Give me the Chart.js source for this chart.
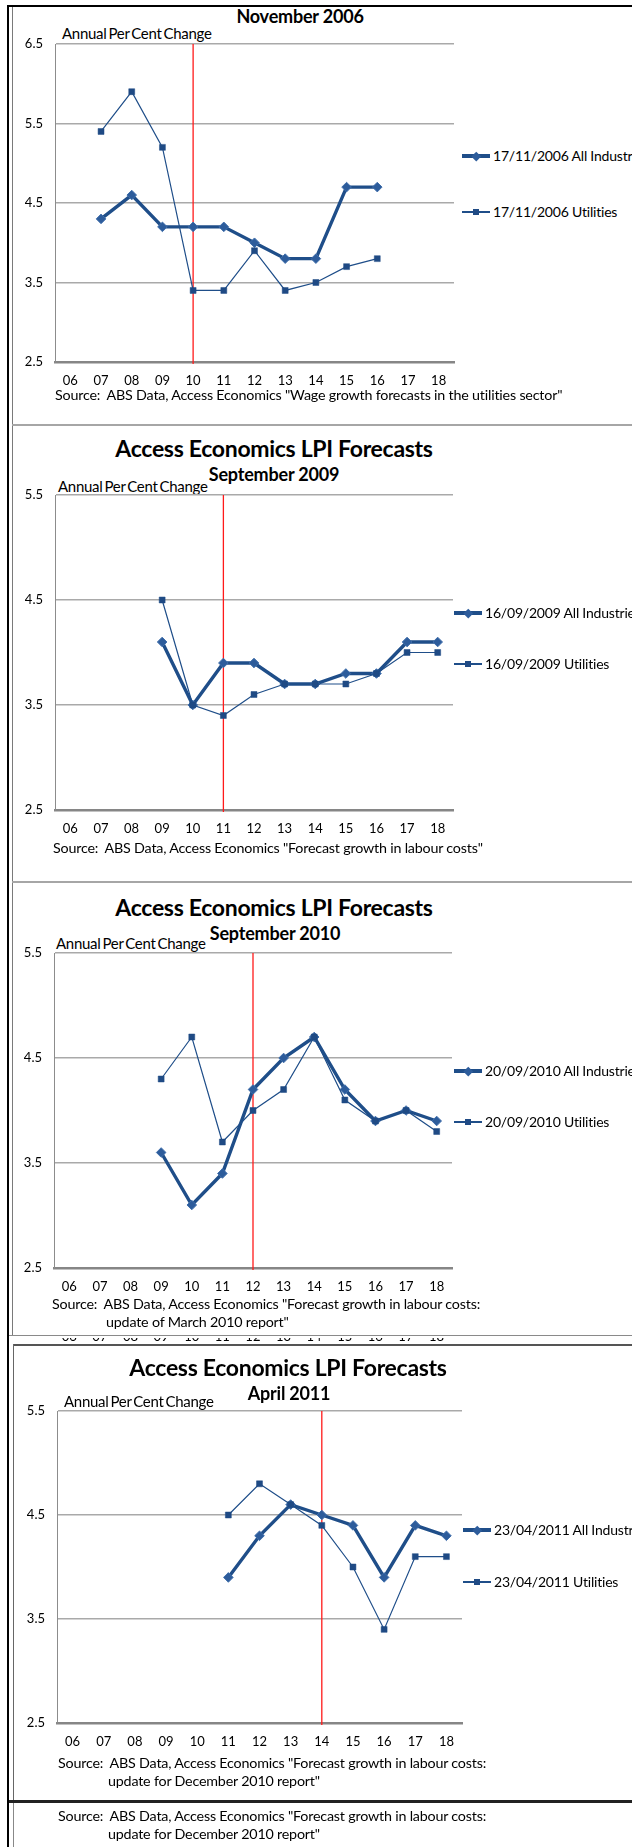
<!DOCTYPE html>
<html>
<head>
<meta charset="utf-8">
<script src="https://cdn.jsdelivr.net/npm/chart.js@4.4.0/dist/chart.umd.min.js"></script>
<style>
  body { margin: 0; background: #fff; }
  #page { position: relative; width: 632px; height: 1847px; overflow: hidden; font-family: Lato, "Liberation Sans", sans-serif; color: #000; }
  #page canvas { position: absolute; left: 0; }
  .t { position: absolute; white-space: pre; line-height: 1; transform: translateY(-50%); }
  .c { transform: translate(-50%, -50%); }
  .title { font-weight: bold; font-size: 23px; letter-spacing: -0.3px; }
  .sub { font-weight: bold; font-size: 18px; letter-spacing: -0.2px; }
  .unit { font-size: 15px; letter-spacing: -0.3px; word-spacing: -1.5px; }
  .src { font-size: 14.3px; letter-spacing: -0.2px; }
  .rule { position: absolute; }
  .leg { position: absolute; height: 14px; transform: translateY(-50%); font-size: 14px; white-space: pre; letter-spacing: -0.2px; }
  .leg i { position: absolute; left: 0; width: 28px; top: 50%; }
  .leg b { position: absolute; top: 50%; left: 14px; }
  .leg span { position: absolute; left: 31px; top: 50%; line-height: 1; transform: translateY(-50%); }
  .ghost { position: absolute; overflow: hidden; }
  .ghost span { position: absolute; font-size: 13px; line-height: 1; transform: translate(-50%, -50%); }
</style>
</head>
<body>
<div id="page">
  <!-- frame lines -->
  <div class="rule" style="left:7px;top:5px;width:625px;height:2px;background:#000"></div>
  <div class="rule" style="left:7px;top:5px;width:2px;height:1842px;background:#000"></div>
  <div class="rule" style="left:12px;top:7px;width:1px;height:1328px;background:#7a7a7a"></div>
  <div class="rule" style="left:12px;top:424px;width:620px;height:2px;background:#a6a6a6"></div>
  <div class="rule" style="left:12px;top:881px;width:620px;height:2px;background:#a6a6a6"></div>
  <div class="rule" style="left:9px;top:1335px;width:623px;height:1px;background:#8a8a8a"></div>
  <div class="rule" style="left:13px;top:1344px;width:619px;height:2px;background:#555"></div>
  <div class="rule" style="left:13px;top:1344px;width:1px;height:457px;background:#666"></div>
  <div class="rule" style="left:9px;top:1800px;width:623px;height:3px;background:#222"></div>
  <div class="rule" style="left:13px;top:1803px;width:1px;height:44px;background:#888"></div>

  <!-- panel 1 -->
  <div class="t c sub" style="left:300px;top:16px">November 2006</div>
  <div class="t unit" style="left:62px;top:33px">Annual Per Cent Change</div>
  <canvas id="c1"></canvas>
  <div class="t src" style="left:55px;top:395px">Source:  ABS Data, Access Economics "Wage growth forecasts in the utilities sector"</div>

  <!-- panel 2 -->
  <div class="t c title" style="left:274px;top:448px">Access Economics LPI Forecasts</div>
  <div class="t c sub" style="left:274px;top:474px">September 2009</div>
  <div class="t unit" style="left:58px;top:486px">Annual Per Cent Change</div>
  <canvas id="c2"></canvas>
  <div class="t src" style="left:53px;top:848px">Source:  ABS Data, Access Economics "Forecast growth in labour costs"</div>

  <!-- panel 3 -->
  <div class="t c title" style="left:274px;top:907px">Access Economics LPI Forecasts</div>
  <div class="t c sub" style="left:275px;top:933px">September 2010</div>
  <div class="t unit" style="left:56px;top:943px">Annual Per Cent Change</div>
  <canvas id="c3"></canvas>
  <div class="t src" style="left:52px;top:1304px">Source:  ABS Data, Access Economics "Forecast growth in labour costs:</div>
  <div class="t src" style="left:106px;top:1322px">update of March 2010 report"</div>
  <div class="ghost" id="ghost" style="left:0;top:1338px;width:632px;height:6px"></div>

  <!-- panel 4 -->
  <div class="t c title" style="left:288px;top:1367px">Access Economics LPI Forecasts</div>
  <div class="t c sub" style="left:289px;top:1393px">April 2011</div>
  <div class="t unit" style="left:64px;top:1401px">Annual Per Cent Change</div>
  <canvas id="c4"></canvas>
  <div class="t src" style="left:58px;top:1763px">Source:  ABS Data, Access Economics "Forecast growth in labour costs:</div>
  <div class="t src" style="left:108px;top:1781px">update for December 2010 report"</div>
  <div class="t src" style="left:58px;top:1816px">Source:  ABS Data, Access Economics "Forecast growth in labour costs:</div>
  <div class="t src" style="left:108px;top:1834px">update for December 2010 report"</div>
</div>

<script>
// financial years shown on every chart
var years = ["06", "07", "08", "09", "10", "11", "12", "13", "14", "15", "16", "17", "18"];

// November 2006 forecast
var nov2006AllIndustries = [null, 4.3, 4.6, 4.2, 4.2, 4.2, 4.0, 3.8, 3.8, 4.7, 4.7, null, null];
var nov2006Utilities     = [null, 5.4, 5.9, 5.2, 3.4, 3.4, 3.9, 3.4, 3.5, 3.7, 3.8, null, null];

// September 2009 forecast
var sep2009AllIndustries = [null, null, null, 4.1, 3.5, 3.9, 3.9, 3.7, 3.7, 3.8, 3.8, 4.1, 4.1];
var sep2009Utilities     = [null, null, null, 4.5, 3.5, 3.4, 3.6, 3.7, 3.7, 3.7, 3.8, 4.0, 4.0];

// September 2010 forecast
var sep2010AllIndustries = [null, null, null, 3.6, 3.1, 3.4, 4.2, 4.5, 4.7, 4.2, 3.9, 4.0, 3.9];
var sep2010Utilities     = [null, null, null, 4.3, 4.7, 3.7, 4.0, 4.2, 4.7, 4.1, 3.9, 4.0, 3.8];

// April 2011 forecast
var apr2011AllIndustries = [null, null, null, null, null, 3.9, 4.3, 4.6, 4.5, 4.4, 3.9, 4.4, 4.3];
var apr2011Utilities     = [null, null, null, null, null, 4.5, 4.8, 4.6, 4.4, 4.0, 3.4, 4.1, 4.1];

// y axis tick labels
var ticksNov2006 = [2.5, 3.5, 4.5, 5.5, 6.5];
var ticksLater   = [2.5, 3.5, 4.5, 5.5];

var darkBlue = "#1f4e89";
var padTop = 24; // room above the plot for the top tick label

// red vertical line at the year the forecast was made
var forecastLine = {
  id: "forecastLine",
  beforeDatasetsDraw: function (chart, args, opts) {
    var x = chart.scales.x.getPixelForValue(chart.data.labels.indexOf(opts.year));
    var ctx = chart.ctx;
    ctx.save();
    ctx.strokeStyle = "#ff1a1a";
    ctx.lineWidth = 1.3;
    ctx.beginPath();
    ctx.moveTo(x, chart.chartArea.top);
    ctx.lineTo(x, chart.chartArea.bottom + 2);
    ctx.stroke();
    ctx.restore();
  }
};

function drawPanel(id, box, allData, utilData, ticks, year, names, legendX, legendY) {
  var cv = document.getElementById(id);
  cv.width = box.right + 6;
  cv.height = box.bottom - box.top + padTop + 34;
  cv.style.top = (box.top - padTop) + "px";

  var datasets = [
    {
      label: names[0],
      data: allData,
      borderColor: darkBlue,
      backgroundColor: "#2d5c9b",
      pointBackgroundColor: "#2d5c9b",
      pointBorderColor: "#3f6eab",
      borderWidth: 3.4,
      pointStyle: "rectRot",
      pointRadius: 4.8,
      pointBorderWidth: 1,
      order: 1
    },
    {
      label: names[1],
      data: utilData,
      borderColor: darkBlue,
      backgroundColor: "#1f4a84",
      pointBackgroundColor: "#1f4a84",
      pointBorderColor: "#1f4a84",
      borderWidth: 1.2,
      pointStyle: "rect",
      pointRadius: 4.2,
      pointBorderWidth: 0.5,
      order: 0
    }
  ];

  new Chart(cv.getContext("2d"), {
    type: "line",
    data: { labels: years, datasets: datasets },
    options: {
      responsive: false,
      animation: false,
      devicePixelRatio: 1,
      layout: { padding: { top: padTop, right: 6, left: 0, bottom: 0 } },
      plugins: {
        legend: { display: false },
        tooltip: { enabled: false },
        forecastLine: { year: year }
      },
      scales: {
        x: {
          offset: true,
          grid: { display: false, drawTicks: false },
          border: { color: "#868686", width: 2.5 },
          ticks: { padding: 11.5, color: "#000", maxRotation: 0, autoSkip: false, font: { family: "Lato", size: 13 } },
          afterFit: function (s) { s.height = 34; }
        },
        y: {
          min: ticks[0],
          max: ticks[ticks.length - 1],
          afterBuildTicks: function (s) { s.ticks = ticks.map(function (v) { return { value: v }; }); },
          grid: { color: "#a9a9a9", lineWidth: 1.6, drawTicks: false },
          border: { color: "#8c8c8c", width: 1 },
          ticks: { padding: 12, color: "#000", font: { family: "Lato", size: 13 }, callback: function (v) { return v.toFixed(1); } },
          afterFit: function (s) { s.width = box.left; }
        }
      }
    },
    plugins: [forecastLine]
  });

  // Excel style legend: line with marker, then the name
  var page = document.getElementById("page");
  datasets.forEach(function (ds, i) {
    var el = document.createElement("div");
    el.className = "leg";
    el.style.left = legendX + "px";
    el.style.top = legendY[i] + "px";
    var ln = document.createElement("i");
    ln.style.height = (i == 0 ? 3.4 : 1.2) + "px";
    ln.style.marginTop = (i == 0 ? -1.7 : -0.6) + "px";
    ln.style.background = ds.borderColor;
    var mk = document.createElement("b");
    var sz = i == 0 ? 6.5 : 6;
    mk.style.width = sz + "px";
    mk.style.height = sz + "px";
    mk.style.marginLeft = (-sz / 2) + "px";
    mk.style.marginTop = (-sz / 2) + "px";
    mk.style.background = ds.pointBackgroundColor;
    if (i == 0) mk.style.transform = "rotate(45deg)";
    var tx = document.createElement("span");
    tx.textContent = ds.label;
    el.appendChild(ln);
    el.appendChild(mk);
    el.appendChild(tx);
    page.appendChild(el);
  });
}

drawPanel("c1", { left: 55, right: 454, top: 44, bottom: 362 }, nov2006AllIndustries, nov2006Utilities,
  ticksNov2006, "10", ["17/11/2006 All Industries", "17/11/2006 Utilities"], 462, [156, 212]);
drawPanel("c2", { left: 55, right: 453, top: 495, bottom: 810 }, sep2009AllIndustries, sep2009Utilities,
  ticksLater, "11", ["16/09/2009 All Industries", "16/09/2009 Utilities"], 454, [613, 664]);
drawPanel("c3", { left: 54, right: 452, top: 953, bottom: 1268 }, sep2010AllIndustries, sep2010Utilities,
  ticksLater, "12", ["20/09/2010 All Industries", "20/09/2010 Utilities"], 454, [1071, 1122]);
drawPanel("c4", { left: 57, right: 462, top: 1411, bottom: 1723 }, apr2011AllIndustries, apr2011Utilities,
  ticksLater, "14", ["23/04/2011 All Industries", "23/04/2011 Utilities"], 463, [1530, 1582]);

// axis labels of a chart hidden underneath, only their lower edge shows
var ghost = document.getElementById("ghost");
years.forEach(function (y, i) {
  var s = document.createElement("span");
  s.textContent = y;
  s.style.left = (54 + 30.6 * (i + 0.5)) + "px";
  s.style.top = "-2px";
  ghost.appendChild(s);
});
</script>
</body>
</html>
